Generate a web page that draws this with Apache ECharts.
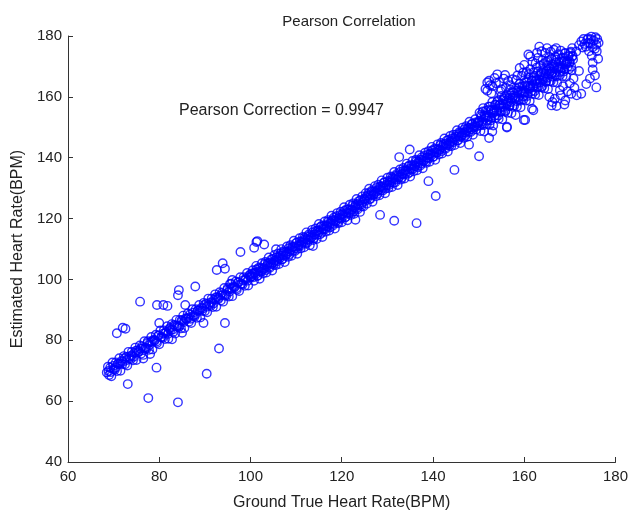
<!DOCTYPE html>
<html>
<head>
<meta charset="utf-8">
<script src="https://cdn.jsdelivr.net/npm/echarts@6/dist/echarts.min.js"></script>
<style>
  html, body { margin: 0; padding: 0; background: #fff; }
  #chart { width: 631px; height: 516px; }
</style>
</head>
<body>
<div id="chart"></div>
<script>
// ground truth vs estimated heart rate, [truth, estimate]
var bandLow = [
  [68.5,69.4],[68.75,71.3],[69,68.6],[69.25,71.0],[69.5,68.2],[69.75,72.7],[70,70.6],[70.25,70.3],
  [70.5,72.7],[70.75,69.9],[71,72.3],[71.25,74.1],[71.5,70.0],[71.75,73.2],[72,72.9],[72.25,74.8],
  [72.5,72.1],[72.75,74.5],[73,71.7],[73.25,76.2],[73.5,74.1],[73.75,73.8],[74,76.2],[74.25,73.4],
  [74.5,75.8],[74.75,77.6],[75,73.5],[75.25,76.7],[75.5,76.4],[75.75,78.3],[76,75.6],[76.25,78.0],
  [76.5,75.2],[76.75,79.7],[77,77.6],[77.25,77.3],[77.5,79.7],[77.75,76.9],[78,79.3],[78.25,81.1],
  [78.5,77.0],[78.75,80.2],[79,79.9],[79.25,81.8],[79.5,79.1],[79.75,81.5],[80,78.7],[80.25,83.2],
  [80.5,81.1],[80.75,80.8],[81,83.2],[81.25,80.4],[81.5,82.8],[81.75,84.6],[82,80.5],[82.25,83.7],
  [82.5,83.4],[82.75,85.3],[83,82.6],[83.25,85.0],[83.5,82.2],[83.75,86.7],[84,84.6],[84.25,84.3],
  [84.5,86.7],[84.75,83.9],[85,86.3],[85.25,88.1],[85.5,84.0],[85.75,87.2],[86,86.9],[86.25,88.8],
  [86.5,86.1],[86.75,88.5],[87,85.7],[87.25,90.2],[87.5,88.1],[87.75,87.8],[88,90.2],[88.25,87.4],
  [88.5,89.8],[88.75,91.6],[89,87.5],[89.25,90.7],[89.5,90.4],[89.75,92.3],[90,89.6],[90.25,92.0],
  [90.5,89.2],[90.75,93.7],[91,91.6],[91.25,91.3],[91.5,93.7],[91.75,90.9],[92,93.3],[92.25,95.1],
  [92.5,91.0],[92.75,94.2],[93,93.9],[93.25,95.8],[93.5,93.1],[93.75,95.5],[94,92.7],[94.25,97.2],
  [94.5,95.1],[94.75,94.8],[95,97.2],[95.25,94.4],[95.5,96.8],[95.75,98.6],[96,94.5],[96.25,97.7],
  [96.5,97.4],[96.75,99.3],[97,96.6],[97.25,99.0],[97.5,96.2],[97.75,100.7],[98,98.6],[98.25,98.3],
  [98.5,100.7],[98.75,97.9],[99,100.3],[99.25,102.1],[99.5,98.0],[99.75,101.2],[100,100.9]
];

var bandLowCore = [
  [68.9,69.9],[69.4,69.6],[69.9,71.6],[70.4,71.0],[70.9,72.2],[71.4,72.4],[71.9,72.1],[72.4,74.1],
  [72.9,73.5],[73.4,74.7],[73.9,74.9],[74.4,74.6],[74.9,76.6],[75.4,76.0],[75.9,77.2],[76.4,77.4],
  [76.9,77.1],[77.4,79.1],[77.9,78.5],[78.4,79.7],[78.9,79.9],[79.4,79.6],[79.9,81.6],[80.4,81.0],
  [80.9,82.2],[81.4,82.4],[81.9,82.1],[82.4,84.1],[82.9,83.5],[83.4,84.7],[83.9,84.9],[84.4,84.6],
  [84.9,86.6],[85.4,86.0],[85.9,87.2],[86.4,87.4],[86.9,87.1],[87.4,89.1],[87.9,88.5],[88.4,89.7],
  [88.9,89.9],[89.4,89.6],[89.9,91.6],[90.4,91.0],[90.9,92.2],[91.4,92.4],[91.9,92.1],[92.4,94.1],
  [92.9,93.5],[93.4,94.7],[93.9,94.9],[94.4,94.6],[94.9,96.6],[95.4,96.0],[95.9,97.2],[96.4,97.4],
  [96.9,97.1],[97.4,99.1],[97.9,98.5],[98.4,99.7],[98.9,99.9],[99.4,99.6],[99.9,101.6]
];

var bandMid = [
  [100.25,100.95],[100.5,103.0],[100.75,99.55],[101,102.3],[101.25,104.45],[101.5,101.1],[101.75,103.75],
  [102,100.2],[102.25,102.65],[102.5,105.3],[102.75,101.95],[103,103.7],[103.25,105.75],[103.5,102.3],
  [103.75,105.05],[104,107.2],[104.25,103.85],[104.5,106.5],[104.75,102.95],[105,105.4],[105.25,108.05],
  [105.5,104.7],[105.75,106.45],[106,108.5],[106.25,105.05],[106.5,107.8],[106.75,109.95],[107,106.6],
  [107.25,109.25],[107.5,105.7],[107.75,108.15],[108,110.8],[108.25,107.45],[108.5,109.2],[108.75,111.25],
  [109,107.8],[109.25,110.55],[109.5,112.7],[109.75,109.35],[110,112.0],[110.25,108.45],[110.5,110.9],
  [110.75,113.55],[111,110.2],[111.25,111.95],[111.5,114.0],[111.75,110.55],[112,113.3],[112.25,115.45],
  [112.5,112.1],[112.75,114.75],[113,111.2],[113.25,113.65],[113.5,116.3],[113.75,112.95],[114,114.7],
  [114.25,116.75],[114.5,113.3],[114.75,116.05],[115,118.2],[115.25,114.85],[115.5,117.5],[115.75,113.95],
  [116,116.4],[116.25,119.05],[116.5,115.7],[116.75,117.45],[117,119.5],[117.25,116.05],[117.5,118.8],
  [117.75,120.95],[118,117.6],[118.25,120.25],[118.5,116.7],[118.75,119.15],[119,121.8],[119.25,118.45],
  [119.5,120.2],[119.75,122.25],[120,118.8],[120.25,121.55],[120.5,123.7],[120.75,120.35],[121,123.0],
  [121.25,119.45],[121.5,121.9],[121.75,124.55],[122,121.2],[122.25,122.95],[122.5,125.0],[122.75,121.55],
  [123,124.3],[123.25,126.45],[123.5,123.1],[123.75,125.75],[124,122.2],[124.25,124.65],[124.5,127.3],
  [124.75,123.95],[125,126.3],[125.25,128.35],[125.5,124.9],[125.75,127.65],[126,129.8],[126.25,126.45],
  [126.5,129.1],[126.75,125.55],[127,128.0],[127.25,130.65],[127.5,127.3],[127.75,129.05],[128,131.1],
  [128.25,127.65],[128.5,130.4],[128.75,132.55],[129,129.2],[129.25,131.85],[129.5,128.3],[129.75,130.75],
  [130,133.4],[130.25,130.05],[130.5,131.8],[130.75,133.85],[131,130.4],[131.25,133.15],[131.5,135.3],
  [131.75,131.95],[132,134.6],[132.25,131.05],[132.5,133.5],[132.75,136.15],[133,132.8],[133.25,134.55],
  [133.5,136.6],[133.75,133.15],[134,135.9],[134.25,138.05],[134.5,134.7],[134.75,137.35],[135,133.8],
  [135.25,136.25],[135.5,138.9],[135.75,135.55],[136,137.3],[136.25,139.35],[136.5,135.9],[136.75,138.65],
  [137,140.8],[137.25,137.45],[137.5,140.1],[137.75,136.55],[138,139.0],[138.25,141.65],[138.5,138.3],
  [138.75,140.05],[139,142.1],[139.25,138.65],[139.5,141.4],[139.75,143.55],[140,140.2],[140.25,142.85],
  [140.5,139.3],[140.75,141.75],[141,144.4],[141.25,141.05],[141.5,142.8],[141.75,144.85],[142,141.4],
  [142.25,144.15],[142.5,146.3],[142.75,142.95],[143,145.6],[143.25,142.05],[143.5,144.5],[143.75,147.15],
  [144,143.8],[144.25,145.55],[144.5,147.6],[144.75,144.15],[145,146.9],[145.25,149.05],[145.5,145.7],
  [145.75,148.35],[146,144.8],[146.25,147.25],[146.5,149.9],[146.75,146.55],[147,148.3],[147.25,150.35],
  [147.5,146.9],[147.75,149.65],[148,151.8],[148.25,148.45],[148.5,151.1],[148.75,147.55],[149,150.0],
  [149.25,152.65],[149.5,149.3],[149.75,151.05]
];

var bandMidCore = [
  [100.1,100.9],[100.35,101.95],[100.6,100.7],[100.85,102.05],[101.1,101.6],[101.35,103.25],[101.6,101.3],
  [101.85,102.65],[102.1,103.7],[102.35,102.45],[102.6,103.8],[102.85,103.35],[103.1,105.0],[103.35,103.05],
  [103.6,104.4],[103.85,105.45],[104.1,104.2],[104.35,105.55],[104.6,105.1],[104.85,106.75],[105.1,104.8],
  [105.35,106.15],[105.6,107.2],[105.85,105.95],[106.1,107.3],[106.35,106.85],[106.6,108.5],[106.85,106.55],
  [107.1,107.9],[107.35,108.95],[107.6,107.7],[107.85,109.05],[108.1,108.6],[108.35,110.25],[108.6,108.3],
  [108.85,109.65],[109.1,110.7],[109.35,109.45],[109.6,110.8],[109.85,110.35],[110.1,112.0],[110.35,110.05],
  [110.6,111.4],[110.85,112.45],[111.1,111.2],[111.35,112.55],[111.6,112.1],[111.85,113.75],[112.1,111.8],
  [112.35,113.15],[112.6,114.2],[112.85,112.95],[113.1,114.3],[113.35,113.85],[113.6,115.5],[113.85,113.55],
  [114.1,114.9],[114.35,115.95],[114.6,114.7],[114.85,116.05],[115.1,115.6],[115.35,117.25],[115.6,115.3],
  [115.85,116.65],[116.1,117.7],[116.35,116.45],[116.6,117.8],[116.85,117.35],[117.1,119.0],[117.35,117.05],
  [117.6,118.4],[117.85,119.45],[118.1,118.2],[118.35,119.55],[118.6,119.1],[118.85,120.75],[119.1,118.8],
  [119.35,120.15],[119.6,121.2],[119.85,119.95],[120.1,121.3],[120.35,120.85],[120.6,122.5],[120.85,120.55],
  [121.1,121.9],[121.35,122.95],[121.6,121.7],[121.85,123.05],[122.1,122.6],[122.35,124.25],[122.6,122.3],
  [122.85,123.65],[123.1,124.7],[123.35,123.45],[123.6,124.8],[123.85,124.35],[124.1,126.0],[124.35,124.05],
  [124.6,125.4],[124.85,126.45],[125.1,125.8],[125.35,127.15],[125.6,126.7],[125.85,128.35],[126.1,126.4],
  [126.35,127.75],[126.6,128.8],[126.85,127.55],[127.1,128.9],[127.35,128.45],[127.6,130.1],[127.85,128.15],
  [128.1,129.5],[128.35,130.55],[128.6,129.3],[128.85,130.65],[129.1,130.2],[129.35,131.85],[129.6,129.9],
  [129.85,131.25],[130.1,132.3],[130.35,131.05],[130.6,132.4],[130.85,131.95],[131.1,133.6],[131.35,131.65],
  [131.6,133.0],[131.85,134.05],[132.1,132.8],[132.35,134.15],[132.6,133.7],[132.85,135.35],[133.1,133.4],
  [133.35,134.75],[133.6,135.8],[133.85,134.55],[134.1,135.9],[134.35,135.45],[134.6,137.1],[134.85,135.15],
  [135.1,136.5],[135.35,137.55],[135.6,136.3],[135.85,137.65],[136.1,137.2],[136.35,138.85],[136.6,136.9],
  [136.85,138.25],[137.1,139.3],[137.35,138.05],[137.6,139.4],[137.85,138.95],[138.1,140.6],[138.35,138.65],
  [138.6,140.0],[138.85,141.05],[139.1,139.8],[139.35,141.15],[139.6,140.7],[139.85,142.35],[140.1,140.4],
  [140.35,141.75],[140.6,142.8],[140.85,141.55],[141.1,142.9],[141.35,142.45],[141.6,144.1],[141.85,142.15],
  [142.1,143.5],[142.35,144.55],[142.6,143.3],[142.85,144.65],[143.1,144.2],[143.35,145.85],[143.6,143.9],
  [143.85,145.25],[144.1,146.3],[144.35,145.05],[144.6,146.4],[144.85,145.95],[145.1,147.6],[145.35,145.65],
  [145.6,147.0],[145.85,148.05],[146.1,146.8],[146.35,148.15],[146.6,147.7],[146.85,149.35],[147.1,147.4],
  [147.35,148.75],[147.6,149.8],[147.85,148.55],[148.1,149.9],[148.35,149.45],[148.6,151.1],[148.85,149.15],
  [149.1,150.5],[149.35,151.55],[149.6,150.3],[149.85,151.65]
];

var bandTop = [
  [150,151.5],[150.2,154.8],[150.4,148.8],[150.6,153.5],[150.8,151.0],[151,156.3],[151.2,148.6],[151.4,153.7],
  [151.6,155.4],[151.8,151.1],[152,153.5],[152.2,156.8],[152.4,150.8],[152.6,155.5],[152.8,153.0],[153,158.3],
  [153.2,150.6],[153.4,155.7],[153.6,157.4],[153.8,153.1],[154,155.5],[154.2,158.8],[154.4,152.8],[154.6,157.5],
  [154.8,155.0],[155,160.3],[155.2,152.6],[155.4,157.7],[155.6,159.4],[155.8,155.1],[156,157.5],[156.2,160.8],
  [156.4,154.8],[156.6,159.5],[156.8,157.0],[157,162.3],[157.2,154.6],[157.4,159.7],[157.6,161.4],[157.8,157.1],
  [158,159.5],[158.2,162.8],[158.4,156.8],[158.6,161.5],[158.8,159.0],[159,164.3],[159.2,156.6],[159.4,161.7],
  [159.6,163.4],[159.8,159.1],[160,161.5],[160.2,164.8],[160.4,158.8],[160.6,163.5],[160.8,161.0],[161,166.3],
  [161.2,158.6],[161.4,163.7],[161.6,165.4],[161.8,161.1],[162,163.5],[162.2,166.8],[162.4,160.8],[162.6,165.5],
  [162.8,163.0],[163,168.3],[163.2,160.6],[163.4,165.7],[163.6,167.4],[163.8,163.1],[164,165.5],[164.2,168.8],
  [164.4,162.8],[164.6,167.5],[164.8,165.0],[165,170.3],[165.2,162.6],[165.4,167.7],[165.6,169.4],[165.8,165.1],
  [166,167.5],[166.2,170.8],[166.4,164.8],[166.6,169.5],[166.8,167.0],[167,172.3],[167.2,164.6],[167.4,169.7],
  [167.6,171.4],[167.8,167.1],[168,169.5],[168.2,172.8],[168.4,166.8],[168.6,171.5],[168.8,169.0],[169,174.3],
  [169.2,166.6],[169.4,171.7],[169.6,173.4],[169.8,169.1],[170,171.5],[170.2,174.8],[170.4,168.8],[170.6,173.5]
];

var bandTopCore = [
  [150.1,152.1],[150.3,150.6],[150.5,154.1],[150.7,151.9],[150.9,155.2],[151.1,150.7],[151.3,154.0],[151.5,153.1],
  [151.7,153.7],[151.9,152.2],[152.1,155.7],[152.3,153.5],[152.5,156.8],[152.7,152.3],[152.9,155.6],[153.1,154.7],
  [153.3,155.3],[153.5,153.8],[153.7,157.3],[153.9,155.1],[154.1,158.4],[154.3,153.9],[154.5,157.2],[154.7,156.3],
  [154.9,156.9],[155.1,155.4],[155.3,158.9],[155.5,156.7],[155.7,160.0],[155.9,155.5],[156.1,158.8],[156.3,157.9],
  [156.5,158.5],[156.7,157.0],[156.9,160.5],[157.1,158.3],[157.3,161.6],[157.5,157.1],[157.7,160.4],[157.9,159.5],
  [158.1,160.1],[158.3,158.6],[158.5,162.1],[158.7,159.9],[158.9,163.2],[159.1,158.7],[159.3,162.0],[159.5,161.1],
  [159.7,161.7],[159.9,160.2],[160.1,163.7],[160.3,161.5],[160.5,164.8],[160.7,160.3],[160.9,163.6],[161.1,162.7],
  [161.3,163.3],[161.5,161.8],[161.7,165.3],[161.9,163.1],[162.1,166.4],[162.3,161.9],[162.5,165.2],[162.7,164.3],
  [162.9,164.9],[163.1,163.4],[163.3,166.9],[163.5,164.7],[163.7,168.0],[163.9,163.5],[164.1,166.8],[164.3,165.9],
  [164.5,166.5],[164.7,165.0],[164.9,168.5],[165.1,166.3],[165.3,169.6],[165.5,165.1],[165.7,168.4],[165.9,167.5],
  [166.1,168.1],[166.3,166.6],[166.5,170.1],[166.7,167.9],[166.9,171.2],[167.1,166.7],[167.3,170.0],[167.5,169.1],
  [167.7,169.7],[167.9,168.2],[168.1,171.7],[168.3,169.5],[168.5,172.8],[168.7,168.3],[168.9,171.6],[169.1,170.7],
  [169.3,171.3],[169.5,169.8],[169.7,173.3],[169.9,171.1],[170.1,174.4],[170.3,169.9],[170.5,173.2],[170.7,172.3]
];

var scatterLow = [
  [75.8,92.7],[70.7,82.3],[72.0,84.1],[72.6,83.8],[79.5,91.6],[80.9,91.6],[81.8,91.3],[84.3,96.5],
  [84.1,94.8],[87.9,97.7],[85.7,91.6],[80.0,85.7],[89.7,85.7],[94.4,85.7],[93.1,77.3],[90.4,69.0],
  [79.4,71.0],[73.1,65.6],[77.6,61.0],[84.1,59.6],[92.6,103.1],[93.9,105.3],[94.4,103.5],[97.8,109.0],
  [100.8,110.4],[101.3,112.3],[101.5,112.6],[103.0,111.5],[82.8,80.3],[105.6,109.9],[76.5,74.0],
  [78.0,75.5],[85.0,82.5],[95.5,98.5],[96.0,99.8]
];

var scatterMid = [
  [113.7,111.0],[123.0,119.6],[128.4,121.2],[131.5,119.3],[136.4,118.5],[139.0,132.3],[140.6,127.4],
  [132.6,140.2],[134.9,142.7],[144.7,136.0],[150.1,140.5],[147.9,144.3]
];

var clusterTop = [
  [156.2,149.9],[159.9,152.4],[161.7,156.1],[166.0,157.2],[152.3,146.5],[158.1,154.0],[153.0,148.6],
  [160.2,152.4],[162.0,155.6],[156.2,150.2],
  [154.1,167.4],[152.3,165.3],[151.9,162.0],[151.9,164.7],[151.5,162.6],[153.0,163.5],[154.5,164.8],
  [155.5,166.0],[156.5,165.2],[157.0,163.8],[153.5,166.2],[155.0,162.5],[152.8,161.2],[153.8,164.5],
  [154.8,161.8],[156.0,163.0],[155.8,167.2],[157.5,165.8],[152.5,163.8],
  [159.5,166.9],[161.3,169.1],[160.9,173.9],[163.8,175.0],[161.3,173.3],[164.6,174.4],[168.9,174.4],
  [162.5,171.0],[160.0,170.5],[163.0,172.8],[165.5,173.0],[166.5,175.5],[167.5,174.0],[162.0,168.0],
  [159.0,169.5],[158.5,167.0],[165.0,176.0],[164.0,172.0],[160.5,168.2],[161.8,171.5],[163.5,170.2],
  [162.8,174.5],[164.8,171.5],[166.0,172.5],[165.8,174.8],[167.0,176.0],[163.3,176.5],
  [158.2,165.5],[159.8,168.0],[161.0,167.5],[162.7,169.6],[164.2,170.8],[165.2,171.8],[166.8,173.2],
  [168.0,175.2],[170.5,176.0],
  [174.7,179.8],[175.8,177.1],[172.5,178.2],[171.4,174.9],[173.5,176.5],[174.5,177.5],[175.2,178.5],
  [176.0,179.0],[173.8,178.8],[175.5,175.8],[174.2,175.0],[172.8,176.2],[174.0,179.2],[175.0,176.3],
  [176.3,177.8],[173.2,177.4],[174.6,178.9],[175.9,175.0],[172.0,177.0],[173.0,179.0],[175.6,179.6],
  [174.0,177.8],
  [175.0,171.2],[175.0,169.0],[175.8,163.1],[173.6,164.2],[175.5,167.0],[174.8,173.5],[176.2,172.5],
  [174.4,166.0],
  [172.5,161.0],[170.3,161.0],[167.1,157.0],[166.7,159.4],[168.0,160.5],[169.0,158.8],[167.8,162.2],
  [171.0,163.0],[165.5,160.0],[168.5,163.5],[170.8,166.0],[172.0,168.5],[169.5,161.8],[171.5,160.5],
  [166.2,158.3],[168.8,157.5],[170.0,164.5]
];

var xTicks = [60, 180, 20];
var yTicks = [40, 180, 20];

var chart = echarts.init(document.getElementById("chart"));
var font = "'Liberation Sans', Arial, sans-serif";
var axisColor = "#333";

var option = {
  animation: false,
  backgroundColor: "#fff",
  title: {
    text: "Pearson Correlation",
    left: 344,
    textAlign: "center",
    top: 9,
    textStyle: { fontFamily: font, fontSize: 15, fontWeight: "normal", color: "#222" }
  },
  grid: { left: 68, right: 10, top: 36, bottom: 46 },
  xAxis: {
    type: "value",
    min: xTicks[0],
    max: xTicks[1],
    interval: xTicks[2],
    name: "Ground True Heart Rate(BPM)",
    nameLocation: "middle",
    nameGap: 33,
    nameTextStyle: { fontFamily: font, fontSize: 16, color: "#222" },
    axisLine: { lineStyle: { color: axisColor, width: 1 } },
    axisTick: { inside: true, length: 5, lineStyle: { color: axisColor } },
    axisLabel: { fontFamily: font, fontSize: 15, color: "#222", margin: 7 },
    splitLine: { show: false }
  },
  yAxis: {
    type: "value",
    min: yTicks[0],
    max: yTicks[1],
    interval: yTicks[2],
    name: "Estimated Heart Rate(BPM)",
    nameLocation: "middle",
    nameGap: 41,
    nameTextStyle: { fontFamily: font, fontSize: 16, color: "#222" },
    axisLine: { lineStyle: { color: axisColor, width: 1 } },
    axisTick: { inside: true, length: 5, lineStyle: { color: axisColor } },
    axisLabel: { fontFamily: font, fontSize: 15, color: "#222", margin: 6 },
    splitLine: { show: false }
  },
  graphic: [
    {
      type: "text",
      left: 179,
      top: 103,
      style: {
        text: "Pearson Correction = 0.9947",
        font: "16px " + font,
        fill: "#222"
      }
    }
  ],
  series: [
    {
      type: "scatter",
      symbol: "circle",
      symbolSize: 8.5,
      itemStyle: { color: "rgba(0,0,0,0)", borderColor: "#0000ff", borderWidth: 1.4 },
      emphasis: { disabled: true },
      data: bandLow.concat(bandLowCore, bandMid, bandMidCore, bandTop, bandTopCore,
        scatterLow, scatterMid, clusterTop)
    }
  ]
};
chart.setOption(option);
</script>
</body>
</html>
